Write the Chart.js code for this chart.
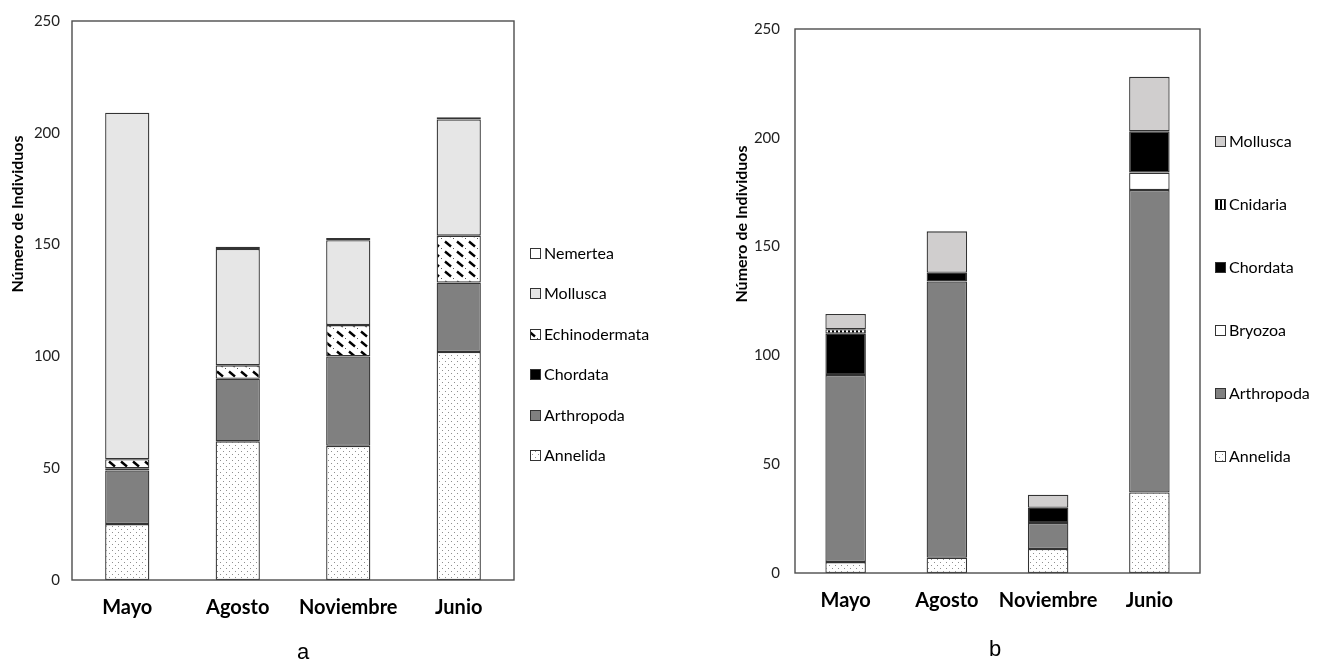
<!DOCTYPE html>
<html><head><meta charset="utf-8">
<script src="https://cdn.jsdelivr.net/npm/chart.js@4.4.1/dist/chart.umd.min.js"></script>
<style>
body{margin:0;background:#fff;width:1319px;height:664px;overflow:hidden;position:relative}
canvas{position:absolute;top:0}
#ca{left:0}
#cb{left:660px}
.lab{position:absolute;font-family:"Liberation Sans",Arial,sans-serif;font-size:22px;color:#000}
</style></head><body>
<canvas id="ca" width="660" height="664"></canvas>
<canvas id="cb" width="659" height="664"></canvas>
<div class="lab" style="left:297px;top:639px">a</div>
<div class="lab" style="left:989px;top:636px">b</div>
<script>
// ---------- data ----------
const categories = ['Mayo', 'Agosto', 'Noviembre', 'Junio'];
const yTicks = [0, 50, 100, 150, 200, 250];
const yTitle = 'Número de Individuos';

// Chart a
const aAnnelida      = [25, 62, 60, 102];
const aArthropoda    = [24, 28, 40, 31];
const aChordata      = [1, 0, 0, 0];
const aEchinodermata = [4, 6, 14, 21];
const aMollusca      = [155, 52, 38, 52];
const aNemertea      = [0, 1, 1, 1];

// Chart b
const bAnnelida   = [5, 7, 11, 37];
const bArthropoda = [86, 127, 12, 139];
const bBryozoa    = [0, 0, 0, 8];
const bChordata   = [19, 4, 7, 19];
const bCnidaria   = [2, 0, 0, 0];
const bMollusca   = [7, 19, 6, 25];

// ---------- patterns ----------
function tile(w, h, draw) {
  const c = document.createElement('canvas');
  c.width = w; c.height = h;
  const x = c.getContext('2d');
  x.fillStyle = '#fff'; x.fillRect(0, 0, w, h);
  draw(x);
  return x.createPattern(c, 'repeat');
}
const dotsPat = tile(6, 6, x => {
  x.fillStyle = '#8f8f8f';
  x.fillRect(1, 1, 1, 1); x.fillRect(4, 4, 1, 1);
});
const echinoPat = tile(12, 10, x => {
  x.strokeStyle = '#000'; x.lineWidth = 2.4; x.lineCap = 'butt';
  x.beginPath(); x.moveTo(1, 1.5); x.lineTo(7, 6.5); x.stroke();
  x.fillStyle = '#555'; x.fillRect(9, 8, 1, 1);
});
const stripePat = tile(4, 4, x => {
  x.fillStyle = '#000'; x.fillRect(0, 0, 2, 4);
});

const BORDER = '#333333';
function ds(label, data, bg) {
  return { label, data, backgroundColor: bg, borderColor: BORDER, borderWidth: 1.3, borderSkipped: false,
           categoryPercentage: 1, barPercentage: 0.4 };
}

// ---------- plugins ----------
const boxPlugin = {
  id: 'box',
  afterDatasetsDraw(chart) {
    const { ctx, chartArea: a } = chart;
    ctx.save();
    ctx.strokeStyle = '#4d4d4d'; ctx.lineWidth = 1.4;
    ctx.strokeRect(a.left, a.top, a.right - a.left, a.bottom - a.top);
    ctx.restore();
  }
};
const sideLegend = {
  id: 'sideLegend',
  afterDraw(chart, args, o) {
    const ctx = chart.ctx, d = chart.data.datasets;
    ctx.save();
    ctx.font = '16px Lato, "Open Sans", sans-serif';
    ctx.textBaseline = 'middle';
    for (let i = d.length - 1, k = 0; i >= 0; i--, k++) {
      const y = Math.round(o.y + k * o.step);
      ctx.fillStyle = d[i].backgroundColor;
      ctx.fillRect(o.x, y - 5, 10, 10);
      ctx.strokeStyle = BORDER; ctx.lineWidth = 1;
      ctx.strokeRect(o.x + 0.5, y - 4.5, 10, 10);
      ctx.fillStyle = '#000';
      ctx.fillText(d[i].label, o.x + 14, y + 1);
    }
    ctx.restore();
  }
};
const axisTitle = {
  id: 'axisTitle',
  afterDraw(chart, args, o) {
    const ctx = chart.ctx;
    ctx.save();
    ctx.translate(o.x, o.y);
    ctx.rotate(-Math.PI / 2);
    ctx.font = 'bold 16px Lato, "Open Sans", sans-serif';
    ctx.fillStyle = '#000';
    ctx.textAlign = 'center'; ctx.textBaseline = 'middle';
    ctx.fillText(yTitle, 0, 0);
    ctx.restore();
  }
};

function makeChart(id, datasets, cfg) {
  return new Chart(document.getElementById(id), {
    type: 'bar',
    data: { labels: categories, datasets },
    plugins: [boxPlugin, sideLegend, axisTitle],
    options: {
      responsive: false, animation: false,
      layout: { padding: cfg.pad },
      plugins: { legend: { display: false }, tooltip: { enabled: false },
                 sideLegend: cfg.legend, axisTitle: cfg.title },
      scales: {
        x: {
          stacked: true,
          grid: { display: false, drawTicks: false },
          border: { display: false },
          ticks: { padding: cfg.xPad, color: '#000', maxRotation: 0, minRotation: 0, autoSkip: false,
                   font: { family: 'Lato', size: 20, weight: 'bold' } },
          afterFit: s => { s.height = 40; }
        },
        y: {
          stacked: true, min: 0, max: 250,
          grid: { display: false, drawTicks: false },
          border: { display: false },
          ticks: { padding: cfg.yPad, color: '#222', font: { family: 'Lato', size: 15 } },
          afterBuildTicks: s => { s.ticks = yTicks.map(v => ({ value: v })); },
          afterFit: s => { s.width = cfg.yWidth; }
        }
      }
    }
  });
}

makeChart('ca', [
  ds('Annelida', aAnnelida, dotsPat),
  ds('Arthropoda', aArthropoda, '#808080'),
  ds('Chordata', aChordata, '#000000'),
  ds('Echinodermata', aEchinodermata, echinoPat),
  ds('Mollusca', aMollusca, '#e6e6e6'),
  ds('Nemertea', aNemertea, '#ffffff')
], { pad: { left: 6, top: 20, right: 146, bottom: 44 }, yWidth: 66, yPad: 12, xPad: 16,
     legend: { x: 530, y: 253, step: 40.4 }, title: { x: 18, y: 214 } });

makeChart('cb', [
  ds('Annelida', bAnnelida, dotsPat),
  ds('Arthropoda', bArthropoda, '#808080'),
  ds('Bryozoa', bBryozoa, '#ffffff'),
  ds('Chordata', bChordata, '#000000'),
  ds('Cnidaria', bCnidaria, stripePat),
  ds('Mollusca', bMollusca, '#d0cece')
], { pad: { left: 70, top: 29, right: 119, bottom: 51 }, yWidth: 65, yPad: 15, xPad: 16,
     legend: { x: 555, y: 141, step: 63 }, title: { x: 82, y: 224 } });
</script>
</body></html>
